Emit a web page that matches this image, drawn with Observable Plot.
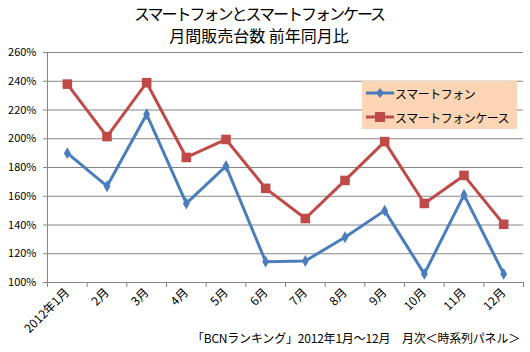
<!DOCTYPE html>
<html><head><meta charset="utf-8">
<script src="https://cdn.jsdelivr.net/npm/d3@7"></script>
<script src="https://cdn.jsdelivr.net/npm/@observablehq/plot@0.6"></script>
<style>
body{margin:0;background:#fff;font-family:"Noto Sans CJK JP",sans-serif;}
#wrap{position:relative;width:530px;height:352px;overflow:hidden;}
#wrap > svg{position:absolute;left:0;top:0;}
.title{position:absolute;left:0;width:518px;text-align:center;font-size:16px;line-height:20px;color:#000;}
#legend{position:absolute;left:362px;top:81px;width:155px;height:48px;background:#FCD5B4;font-size:12px;letter-spacing:-0.5px;}
#legend .row{position:absolute;left:4px;display:flex;align-items:center;height:16px;white-space:nowrap;}
#legend svg{flex:none;display:block;}
#caption{position:absolute;right:10px;top:329px;font-size:12px;letter-spacing:-0.2px;color:#000;white-space:nowrap;}
</style></head>
<body><div id="wrap"></div>
<script>
const months = ["2012年1月","2月","3月","4月","5月","6月","7月","8月","9月","10月","11月","12月"];
const smartphone = [190,167,217,155,181,114.5,115,131.5,150,106,161,106];
const phoneCase = [238,201.5,239,187,199.5,165.5,144.5,171,198,155,174.5,140.5];
const yTicks = [100,120,140,160,180,200,220,240,260];
const seriesNames = ["スマートフォン","スマートフォンケース"];
const titleLines = ["スマートフォンとスマートフォンケース","月間販売台数 前年同月比"];
const captionText = "「BCNランキング」2012年1月～12月　月次＜時系列パネル＞";

const blue = "#4A7EBB", red = "#BE4B48";
const rows = months.map((m,i)=>({i, m, sp: smartphone[i], cs: phoneCase[i]}));
const idx = d3.range(months.length);
const bounds = d3.range(months.length+1).map(i=>i-0.5);

const chart = Plot.plot({
  width:530, height:352,
  marginLeft:47, marginRight:7, marginTop:52, marginBottom:70,
  x:{type:"linear", domain:[-0.5, months.length-0.5]},
  y:{domain:[100,260]},
  style:{fontFamily:"'Noto Sans CJK JP',sans-serif", fontSize:"11px", color:"#000", background:"transparent", overflow:"visible"},
  marks:[
    Plot.gridY(yTicks,{stroke:"#868686", strokeOpacity:1}),
    Plot.ruleX([-0.5],{stroke:"#868686"}),
    Plot.axisY(yTicks,{tickSize:4, tickPadding:7, stroke:"#868686", tickFormat:d=>d+"%", label:null}),
    Plot.axisX(bounds,{tickSize:5, stroke:"#868686", tickFormat:()=>"", label:null}),
    Plot.axisX(idx,{tickSize:0, tickPadding:8, tickRotate:-45, fontSize:12, tickFormat:i=>months[i], label:null}),
    Plot.line(rows,{x:"i", y:"cs", stroke:red, strokeWidth:3}),
    Plot.dot(rows,{x:"i", y:"cs", symbol:"square", r:5.4, fill:red, stroke:null}),
    Plot.line(rows,{x:"i", y:"sp", stroke:blue, strokeWidth:3}),
    Plot.dot(rows,{x:"i", y:"sp", symbol:"diamond", r:3.6, fill:blue, stroke:null})
  ]
});
const wrap = document.getElementById("wrap");
wrap.appendChild(chart);

titleLines.forEach((t,k)=>{
  const d = document.createElement("div");
  d.className="title"; d.style.top = (3 + k*22) + "px"; d.textContent = t;
  if (k===0) d.style.letterSpacing = "-2px";
  wrap.appendChild(d);
});

const lg = document.createElement("div"); lg.id="legend";
[[blue,"diamond"],[red,"square"]].forEach(([c,s],k)=>{
  const r = document.createElement("div"); r.className="row"; r.style.top = (4 + k*24) + "px";
  const sym = s==="square" ? `<rect x="9" y="3" width="10" height="10" fill="${c}"/>` : `<path d="M14,3 L18,8 L14,13 L10,8 Z" fill="${c}"/>`;
  r.innerHTML = `<svg width="28" height="16"><line x1="0" y1="8" x2="28" y2="8" stroke="${c}" stroke-width="3"/>${sym}</svg><span style="margin-left:1px">${seriesNames[k]}</span>`;
  lg.appendChild(r);
});
wrap.appendChild(lg);

const cap = document.createElement("div"); cap.id="caption"; cap.textContent = captionText;
wrap.appendChild(cap);
</script></body></html>
